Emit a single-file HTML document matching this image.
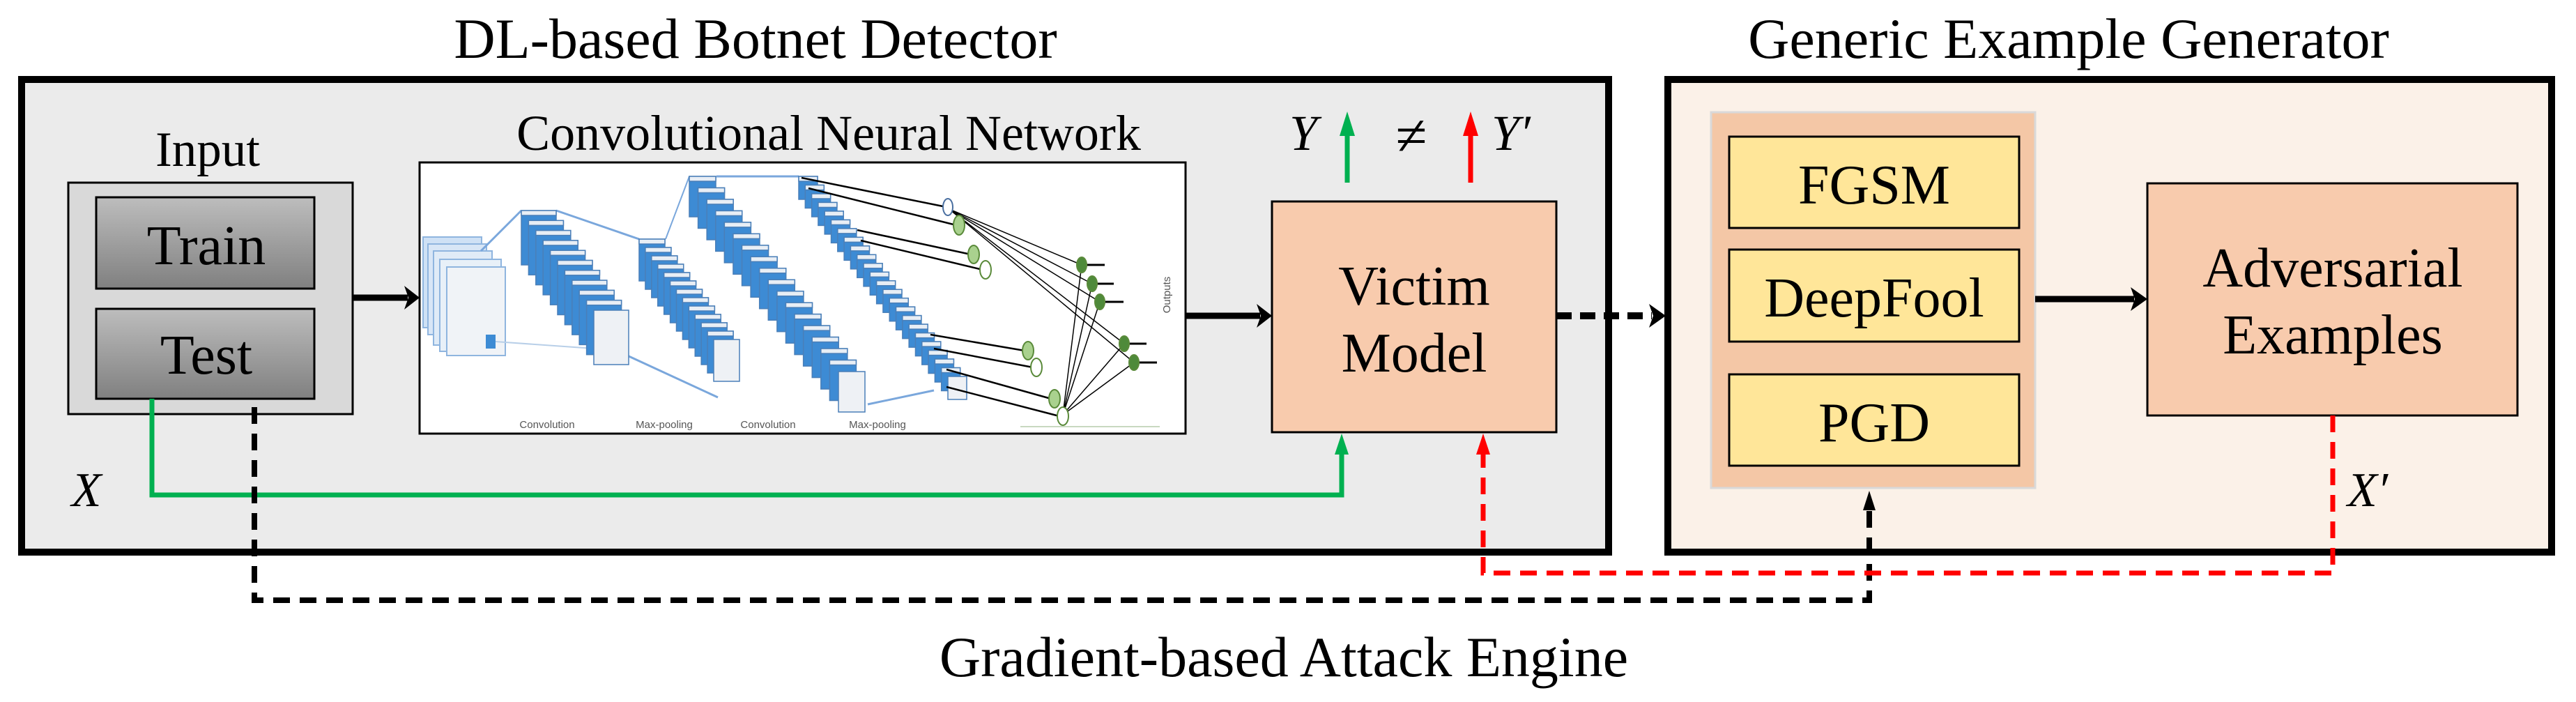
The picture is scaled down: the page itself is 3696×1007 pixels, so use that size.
<!DOCTYPE html>
<html><head><meta charset="utf-8"><style>
html,body{margin:0;padding:0;background:#fff;}
svg{display:block;}
text{font-family:"Liberation Serif","Times New Roman","DejaVu Serif",serif;fill:#000;}
text.s{font-family:"Liberation Sans",sans-serif;fill:#555;font-size:15px;}
</style></head><body>
<svg width="3696" height="1007" viewBox="0 0 3696 1007" xmlns="http://www.w3.org/2000/svg" font-family="Liberation Serif, Times New Roman, serif">
<defs>
<linearGradient id="g" x1="0" y1="0" x2="0" y2="1"><stop offset="0" stop-color="#bdbdbd"/><stop offset="1" stop-color="#808080"/></linearGradient>
</defs>
<g font-family="Liberation Serif, serif">
<text x="1084" y="83" font-size="82" text-anchor="middle">DL-based Botnet Detector</text>
<text x="2968" y="83" font-size="82" text-anchor="middle">Generic Example Generator</text>
<text x="1842" y="970" font-size="82" text-anchor="middle">Gradient-based Attack Engine</text>
</g>

<rect x="31" y="114" width="2277" height="678" fill="#ebebeb" stroke="#000" stroke-width="10"/>
<rect x="2393" y="114" width="1268" height="678" fill="#fbf1e8" stroke="#000" stroke-width="10"/>

<text x="298" y="238" font-size="71" text-anchor="middle" font-family="Liberation Serif, serif">Input</text>
<rect x="98" y="262" width="408" height="332" fill="#d9d9d9" stroke="#000" stroke-width="3"/>
<rect x="138" y="283" width="313" height="131" fill="url(#g)" stroke="#000" stroke-width="3"/>
<rect x="138" y="443" width="313" height="129" fill="url(#g)" stroke="#000" stroke-width="3"/>
<text x="296" y="379" font-size="80" text-anchor="middle" font-family="Liberation Serif, serif">Train</text>
<text x="296" y="536" font-size="80" text-anchor="middle" font-family="Liberation Serif, serif">Test</text>

<text x="1189" y="215" font-size="72" text-anchor="middle" font-family="Liberation Serif, serif">Convolutional Neural Network</text>
<rect x="602" y="233" width="1099" height="389" fill="#fff" stroke="#000" stroke-width="3"/>
<g stroke-width="2">
<rect x="607" y="340" width="84" height="130" fill="#cfe1f5" stroke="#8fb5df"/>
<rect x="614" y="350" width="84" height="130" fill="#d8e6f6" stroke="#8fb5df"/>
<rect x="622" y="360" width="84" height="135" fill="#e0ebf7" stroke="#8fb5df"/>
<rect x="631" y="372" width="88" height="132" fill="#e8f0f8" stroke="#8fb5df"/>
<rect x="641" y="383" width="84" height="127" fill="#f0f3f7" stroke="#8fb5df"/>
<rect x="697" y="480" width="14" height="20" fill="#3d8bd4"/>
<line x1="711" y1="490" x2="852" y2="500" stroke="#b8cfe8"/>
<line x1="690" y1="360" x2="748" y2="302" stroke="#7aa7dc" stroke-width="3"/>
<line x1="798" y1="302" x2="917" y2="343" stroke="#7aa7dc" stroke-width="3"/>
<line x1="955" y1="343" x2="989" y2="253" stroke="#7aa7dc" stroke-width="2"/>
<line x1="1028" y1="253" x2="1146" y2="253" stroke="#7aa7dc" stroke-width="3"/>
<line x1="900" y1="510" x2="1030" y2="570" stroke="#7aa7dc" stroke-width="3"/>
<line x1="1245" y1="580" x2="1340" y2="560" stroke="#7aa7dc" stroke-width="3"/>
</g>
<g id="stacks" stroke="#4a7fb8" stroke-width="1.5"></g>
<g stroke="#000" stroke-width="2.5" fill="none">
<line x1="1150" y1="255" x2="1358" y2="297"/><line x1="1160" y1="270" x2="1372" y2="323"/>
<line x1="1230" y1="330" x2="1393" y2="365"/><line x1="1235" y1="345" x2="1410" y2="387"/>
<line x1="1335" y1="480" x2="1470" y2="503"/><line x1="1340" y1="500" x2="1482" y2="527"/>
<line x1="1358" y1="530" x2="1508" y2="572"/><line x1="1358" y1="555" x2="1520" y2="597"/>
</g>
<g stroke="#000" stroke-width="1.5">
<line x1="1362" y1="300" x2="1552" y2="380"/><line x1="1362" y1="300" x2="1567" y2="407"/>
<line x1="1362" y1="300" x2="1578" y2="433"/><line x1="1362" y1="300" x2="1613" y2="493"/>
<line x1="1362" y1="300" x2="1627" y2="520"/>
<line x1="1525" y1="595" x2="1552" y2="380"/><line x1="1525" y1="595" x2="1567" y2="407"/>
<line x1="1525" y1="595" x2="1578" y2="433"/><line x1="1525" y1="595" x2="1613" y2="493"/>
<line x1="1525" y1="595" x2="1627" y2="520"/>
<line x1="1552" y1="380" x2="1585" y2="380" stroke-width="3"/><line x1="1567" y1="407" x2="1598" y2="407" stroke-width="3"/>
<line x1="1578" y1="433" x2="1612" y2="433" stroke-width="3"/><line x1="1613" y1="493" x2="1645" y2="493" stroke-width="3"/>
<line x1="1627" y1="520" x2="1660" y2="520" stroke-width="3"/>
</g>
<g stroke="#5a8a3a" stroke-width="2">
<ellipse cx="1360" cy="297" rx="7" ry="12" fill="#fff" stroke="#4a6fa0"/>
<ellipse cx="1376" cy="323" rx="8" ry="14" fill="#a9d18e"/>
<ellipse cx="1397" cy="365" rx="8" ry="13" fill="#a9d18e"/>
<ellipse cx="1414" cy="387" rx="8" ry="13" fill="#fff"/>
<ellipse cx="1475" cy="503" rx="8" ry="13" fill="#a9d18e"/>
<ellipse cx="1487" cy="527" rx="8" ry="13" fill="#fff"/>
<ellipse cx="1513" cy="572" rx="8" ry="13" fill="#a9d18e"/>
<ellipse cx="1525" cy="597" rx="8" ry="13" fill="#fff"/>
<ellipse cx="1552" cy="380" rx="7" ry="11" fill="#4e8a3a"/>
<ellipse cx="1567" cy="407" rx="7" ry="11" fill="#4e8a3a"/>
<ellipse cx="1578" cy="433" rx="7" ry="11" fill="#4e8a3a"/>
<ellipse cx="1613" cy="493" rx="7" ry="11" fill="#4e8a3a"/>
<ellipse cx="1627" cy="520" rx="7" ry="11" fill="#4e8a3a"/>
</g>
<line x1="1464" y1="612" x2="1664" y2="612" stroke="#c8d8c0" stroke-width="2"/>
<text class="s" x="785" y="614" text-anchor="middle">Convolution</text>
<text class="s" x="953" y="614" text-anchor="middle">Max-pooling</text>
<text class="s" x="1102" y="614" text-anchor="middle">Convolution</text>
<text class="s" x="1259" y="614" text-anchor="middle">Max-pooling</text>
<text class="s" x="1679" y="423" text-anchor="middle" transform="rotate(-90 1679 423)">Outputs</text>

<line x1="506" y1="427" x2="585" y2="427" stroke="#000" stroke-width="9"/>
<polygon points="602,427 580,410 586,427 580,444" fill="#000"/>
<line x1="1701" y1="453" x2="1808" y2="453" stroke="#000" stroke-width="9"/>
<polygon points="1825,453 1803,436 1809,453 1803,470" fill="#000"/>

<rect x="1825" y="289" width="408" height="331" fill="#f8cbad" stroke="#000" stroke-width="3"/>
<text x="2029" y="437" font-size="80" text-anchor="middle" font-family="Liberation Serif, serif">Victim</text>
<text x="2029" y="533" font-size="80" text-anchor="middle" font-family="Liberation Serif, serif">Model</text>

<text x="1850" y="215" font-size="72" font-style="italic" font-family="Liberation Serif, serif">Y</text>
<line x1="1933" y1="262" x2="1933" y2="180" stroke="#00b050" stroke-width="7"/>
<polygon points="1933,160 1922,195 1944,195" fill="#00b050"/>
<text x="2025" y="222" font-size="82" text-anchor="middle" font-family="Liberation Serif, serif">≠</text>
<line x1="2110" y1="262" x2="2110" y2="180" stroke="#ff0000" stroke-width="7"/>
<polygon points="2110,160 2099,195 2121,195" fill="#ff0000"/>
<text x="2140" y="215" font-size="72" font-style="italic" font-family="Liberation Serif, serif">Y′</text>

<line x1="2233" y1="453" x2="2370" y2="453" stroke="#000" stroke-width="10" stroke-dasharray="22,12"/>
<polygon points="2390,453 2366,436 2372,453 2366,470" fill="#000"/>

<rect x="2455" y="161" width="465" height="539" fill="#f4c7a6" stroke="#d9d9d9" stroke-width="3"/>
<rect x="2481" y="196" width="416" height="131" fill="#ffe699" stroke="#000" stroke-width="3"/>
<rect x="2481" y="358" width="416" height="132" fill="#ffe699" stroke="#000" stroke-width="3"/>
<rect x="2481" y="537" width="416" height="131" fill="#ffe699" stroke="#000" stroke-width="3"/>
<text x="2689" y="292" font-size="80" text-anchor="middle" font-family="Liberation Serif, serif">FGSM</text>
<text x="2689" y="454" font-size="80" text-anchor="middle" font-family="Liberation Serif, serif">DeepFool</text>
<text x="2689" y="633" font-size="80" text-anchor="middle" font-family="Liberation Serif, serif">PGD</text>

<line x1="2920" y1="429" x2="3062" y2="429" stroke="#000" stroke-width="9"/>
<polygon points="3081,429 3057,412 3063,429 3057,446" fill="#000"/>

<rect x="3081" y="263" width="531" height="333" fill="#f8cbad" stroke="#000" stroke-width="3"/>
<text x="3347" y="411" font-size="80" text-anchor="middle" font-family="Liberation Serif, serif">Adversarial</text>
<text x="3347" y="507" font-size="80" text-anchor="middle" font-family="Liberation Serif, serif">Examples</text>

<polyline points="218,572 218,710 1925,710 1925,640" fill="none" stroke="#00b050" stroke-width="7"/>
<polygon points="1925,622 1915,652 1935,652" fill="#00b050"/>
<text x="124" y="726" font-size="70" font-style="italic" text-anchor="middle" font-family="Liberation Serif, serif">X</text>

<polyline points="365,584 365,861 2682,861 2682,725" fill="none" stroke="#000" stroke-width="8" stroke-dasharray="24,14"/>
<polygon points="2682,704 2673,732 2691,732" fill="#000"/>

<polyline points="3347,596 3347,822 2128,822 2128,640" fill="none" stroke="#ff0000" stroke-width="7" stroke-dasharray="24,14"/>
<polygon points="2128,622 2118,652 2138,652" fill="#ff0000"/>
<text x="3368" y="726" font-size="70" font-style="italic" font-family="Liberation Serif, serif">X′</text>
</svg>
<script>
(function(){
var g=document.getElementById('stacks');var ns='http://www.w3.org/2000/svg';
function stack(x0,y0,x1,y1,w,h,n){for(var i=0;i<n;i++){var t=n>1?i/(n-1):0;var x=x0+(x1-x0)*t,y=y0+(y1-y0)*t;
var r=document.createElementNS(ns,'rect');r.setAttribute('x',x);r.setAttribute('y',y);r.setAttribute('width',w);r.setAttribute('height',h);
r.setAttribute('fill',i==n-1?'#eef1f5':'#3d8bd4');g.appendChild(r);
if(i<n-1){var b=document.createElementNS(ns,'rect');b.setAttribute('x',x);b.setAttribute('y',y);b.setAttribute('width',w);b.setAttribute('height',7);b.setAttribute('fill','#e8eef5');g.appendChild(b);}}}
stack(748,302,852,445,50,78,11);
stack(917,343,1024,487,37,60,13);
stack(989,253,1203,533,38,58,18);
stack(1146,253,1360,540,27,33,24);
})();
</script>
</body></html>
